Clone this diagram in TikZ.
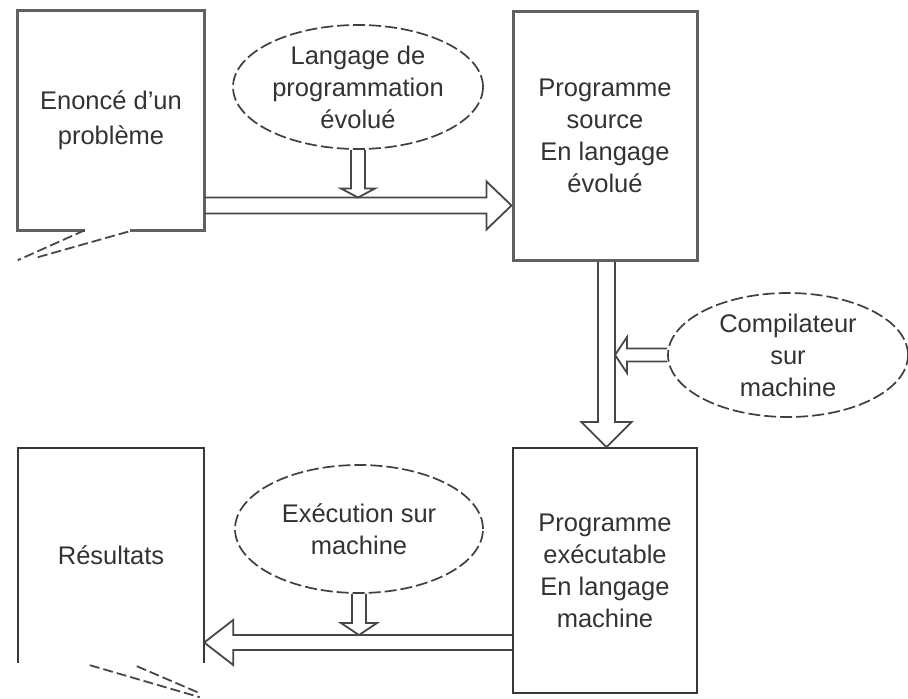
\documentclass[tikz,border=0pt]{standalone}
\usepackage{fontspec}
\setmainfont{Liberation Sans}
\usetikzlibrary{shapes.geometric,calc}

\tikzset{
  txt/.style={align=center, text=black!80, font=\fontsize{25.5}{32}\selectfont},
  box/.style={txt, rectangle, inner sep=0pt},
  heavy/.style={draw=black!62, line width=3pt, line join=miter},
  light/.style={draw=black!78, line width=1.9pt, line join=miter},
  bubble/.style={txt, ellipse, inner sep=0pt, draw=black!75, line width=1.7pt,
    dash pattern=on 12pt off 4pt},
  flow/.style={draw=black!72, line width=1.8pt, line join=miter},
  tear/.style={draw=black!72, line width=1.8pt, dash pattern=on 10pt off 4pt},
}

% hollow block arrow: start, tip, shaft half width, head half width, head length
\newcommand\hollowarrow[5]{%
  \coordinate (hb) at ($(#2)!#5!(#1)$);
  \draw[flow] ($(#1)!#3!90:(#2)$) -- ($(hb)!#3!-90:(#1)$)
    -- ($(hb)!#4!-90:(#1)$) -- (#2) -- ($(hb)!#4!90:(#1)$)
    -- ($(hb)!#3!90:(#1)$) -- ($(#1)!#3!-90:(#2)$);
}

\begin{document}
\begin{tikzpicture}[x=1pt, y=-1pt]
  \useasboundingbox[fill=white] (0,0) rectangle (908,699);

  % the four documents
  \node[box, minimum width=186pt, minimum height=219pt] (box1) at (111,120.5)
    {Enoncé d'un\\[3pt]problème};
  \node[box, heavy, minimum width=184pt, minimum height=249pt] (box2) at (605,135.5)
    {Programme\\source\\En langage\\évolué};
  \node[box, light, minimum width=184pt, minimum height=245pt] (box3) at (605,570.5)
    {Programme\\exécutable\\En langage\\machine};
  \node[box, minimum width=186pt, minimum height=215pt] (box4) at (111,555.5)
    {Résultats};

  % outlines of the torn documents
  \draw[heavy] ($(box1.south west)+(67,0)$) -- (box1.south west) -- (box1.north west)
    -- (box1.north east) -- (box1.south east) -- ($(box1.south west)+(112,0)$);
  \draw[tear] ($(box1.south west)+(67,0)$) -- ($(box1.south west)+(0,30)$);
  \draw[tear] ($(box1.south west)+(20,27)$) -- ($(box1.south west)+(112,1)$);

  \draw[light] (box4.south west) -- (box4.north west) -- (box4.north east) -- (box4.south east);
  \draw[tear] ($(box4.south west)+(72,2)$) -- ($(box4.south west)+(182,34)$);
  \draw[tear] ($(box4.south west)+(119,3)$) -- ($(box4.south west)+(182,30)$);

  % the three tools
  \node[bubble, minimum width=250pt, minimum height=124pt] (e1) at (358,87)
    {Langage de\\programmation\\évolué};
  \node[bubble, minimum width=240pt, minimum height=124pt] (e2) at (788,355)
    {Compilateur\\sur\\machine};
  \node[bubble, minimum width=248pt, minimum height=128pt] (e3) at (359,529)
    {Exécution sur\\machine};

  % anchor points of the block arrows
  \coordinate (a1e) at ($(box2.west)+(0,70)$);
  \coordinate (a1s) at (box1.east |- a1e);
  \coordinate (a2e) at ($(e1.south |- a1e)+(0,-8)$);
  \coordinate (a3s) at ($(box2.south)+(1.5,0)$);
  \coordinate (a3e) at ($(box3.north)+(1.5,0)$);
  \coordinate (a4e) at ($(a3s |- e2.west)+(8.5,0)$);
  \coordinate (a5s) at ($(box3.west)+(0,72)$);
  \coordinate (a5e) at (box4.east |- a5s);
  \coordinate (a6e) at ($(e3.south |- a5s)+(0,-7.5)$);

  % block arrows
  \hollowarrow{a1s}{a1e}{8pt}{24pt}{25pt}
  \hollowarrow{e1.south}{a2e}{7pt}{17pt}{9pt}
  \hollowarrow{a3s}{a3e}{8.5pt}{25pt}{25pt}
  \hollowarrow{e2.west}{a4e}{6.5pt}{18pt}{12pt}
  \hollowarrow{a5s}{a5e}{7.5pt}{22.5pt}{29pt}
  \hollowarrow{e3.south}{a6e}{7pt}{18pt}{12pt}
\end{tikzpicture}
\end{document}
